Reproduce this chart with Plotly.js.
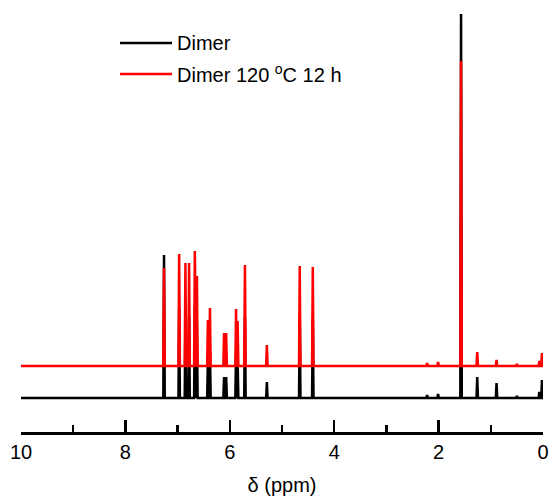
<!DOCTYPE html>
<html>
<head>
<meta charset="utf-8">
<script src="https://cdn.plot.ly/plotly-3.0.1.min.js"></script>
<style>
  html, body { margin: 0; padding: 0; background: #fff; }
  #chart { width: 553px; height: 504px; }
</style>
</head>
<body>
<div id="chart"></div>
<script>
// Peak positions (ppm)
const peakPpm      = [7.26, 6.97, 6.85, 6.78, 6.67, 6.63, 6.42, 6.38, 6.11, 6.07, 5.88, 5.85, 5.71, 5.29, 4.66, 4.41, 2.22, 2.01, 1.57, 1.26, 0.89, 0.50, 0.07, 0.02];
// Peak heights above each trace's own baseline (arbitrary intensity units)
const dimerHeights = [143, 90, 82, 82, 92, 72, 37, 46, 21, 21, 46, 36, 81, 16, 80, 79, 3, 4, 390, 21, 15, 2, 6, 18];
const heatedHeights= [98, 112, 103, 103, 115, 90, 46, 58, 33, 33, 57, 45, 101, 21, 100, 99, 3, 4, 305, 14, 6, 2, 5, 13];
// Vertical offsets of the stacked spectra
const dimerOffset  = 34;
const heatedOffset = 66;
const seriesNames  = ["Dimer", "Dimer 120 <sup>o</sup>C 12 h"];
const xTickVals    = [10, 8, 6, 4, 2, 0];

// Build a stick-like spectrum: baseline from 10 to 0 ppm with a narrow peak at each position
function buildSpectrum(ppm, heights, offset) {
  const halfWidth = 0.014;
  const order = ppm.map((p, i) => i).sort((a, b) => ppm[b] - ppm[a]);
  const xs = [10.2], ys = [offset];
  order.forEach(i => {
    xs.push(ppm[i] + halfWidth, ppm[i], ppm[i] - halfWidth);
    ys.push(offset, offset + heights[i], offset);
  });
  xs.push(-0.2); ys.push(offset);
  return { x: xs, y: ys };
}

const dimer  = buildSpectrum(peakPpm, dimerHeights, dimerOffset);
const heated = buildSpectrum(peakPpm, heatedHeights, heatedOffset);

const traces = [
  { x: dimer.x,  y: dimer.y,  mode: 'lines', name: seriesNames[0], line: { color: '#000000', width: 2.5 }, showlegend: false },
  { x: heated.x, y: heated.y, mode: 'lines', name: seriesNames[1], line: { color: '#ff0000', width: 2.5 }, showlegend: false }
];

const W = 553, H = 504, L = 21, R = 10, T = 14, B = 72;
const pw = W - L - R, ph = H - T - B;
const px = v => (v - L) / pw;           // pixel -> paper x
const py = v => (H - B - v) / ph;       // pixel -> paper y

const layout = {
  width: W, height: H,
  margin: { l: L, r: R, t: T, b: B },
  paper_bgcolor: '#ffffff', plot_bgcolor: '#ffffff',
  font: { family: 'Liberation Sans, Arial, sans-serif', color: '#000000', size: 20 },
  showlegend: false,
  xaxis: {
    range: [10, 0],
    tickvals: xTickVals,
    ticktext: xTickVals.map(String),
    ticks: 'inside', ticklen: 12, tickwidth: 2.5, tickcolor: '#000',
    minor: { dtick: 1, tick0: 0, ticks: 'inside', ticklen: 7, tickwidth: 2.5, tickcolor: '#000', showgrid: false },
    showline: true, linecolor: '#000', linewidth: 2.5,
    showgrid: false, zeroline: false,
    tickfont: { size: 20 },
    ticklabelstandoff: 0,
    title: { text: 'δ (ppm)', font: { size: 20 }, standoff: 17 }
  },
  yaxis: {
    range: [0, 418],
    visible: false, showgrid: false, zeroline: false, fixedrange: true
  },
  shapes: [
    { type: 'line', xref: 'paper', yref: 'paper', x0: px(120), x1: px(172), y0: py(43), y1: py(43), line: { color: '#000', width: 2.5 } },
    { type: 'line', xref: 'paper', yref: 'paper', x0: px(120), x1: px(172), y0: py(74), y1: py(74), line: { color: '#ff0000', width: 2.5 } }
  ],
  annotations: [
    { xref: 'paper', yref: 'paper', x: px(175), y: py(43), xanchor: 'left', yanchor: 'middle', text: seriesNames[0], showarrow: false, font: { size: 20 } },
    { xref: 'paper', yref: 'paper', x: px(175), y: py(74), xanchor: 'left', yanchor: 'middle', text: seriesNames[1], showarrow: false, font: { size: 20 } }
  ]
};

Plotly.newPlot('chart', traces, layout, { displayModeBar: false, staticPlot: true });
</script>
</body>
</html>
